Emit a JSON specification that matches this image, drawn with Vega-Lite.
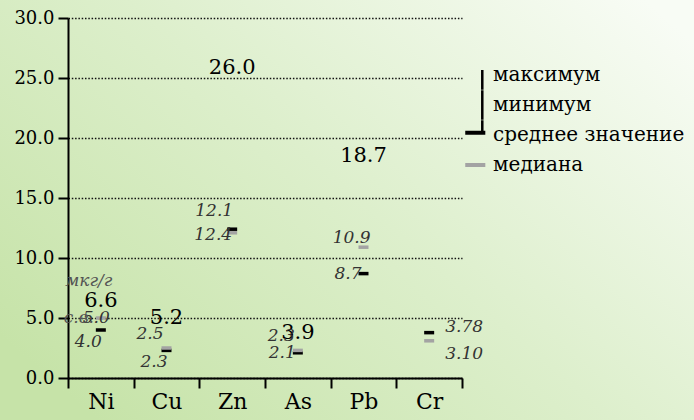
{
  "$schema": "https://vega.github.io/schema/vega-lite/v6.json",
  "width": 694,
  "height": 420,
  "autosize": {"type": "none"},
  "padding": 0,
  "background": "#dcefca",
  "config": {
    "view": {
      "stroke": null,
      "fill": {
        "gradient": "linear",
        "x1": 0, "y1": 0.8, "x2": 1, "y2": 0.1,
        "stops": [
          {"offset": 0, "color": "#c6e3a8"},
          {"offset": 0.5, "color": "#ddefcc"},
          {"offset": 1, "color": "#f8fcf5"}
        ]
      }
    },
    "font": "DejaVu Serif",
    "text": {"font": "DejaVu Serif"}
  },
  "data": {
    "values": [
      {"element": "Ni", "stat": "максимум", "value": 6.6, "label": "6.6"},
      {"element": "Cu", "stat": "максимум", "value": 5.2, "label": "5.2"},
      {"element": "Zn", "stat": "максимум", "value": 26.0, "label": "26.0"},
      {"element": "As", "stat": "максимум", "value": 3.9, "label": "3.9"},
      {"element": "Pb", "stat": "максимум", "value": 18.7, "label": "18.7"},
      {"element": "Ni", "stat": "среднее значение", "value": 4.0, "label": "4.0"},
      {"element": "Cu", "stat": "среднее значение", "value": 2.3, "label": "2.3"},
      {"element": "Zn", "stat": "среднее значение", "value": 12.4, "label": "12.4"},
      {"element": "As", "stat": "среднее значение", "value": 2.1, "label": "2.1"},
      {"element": "Pb", "stat": "среднее значение", "value": 8.7, "label": "8.7"},
      {"element": "Cr", "stat": "среднее значение", "value": 3.78, "label": "3.78"},
      {"element": "Ni", "stat": "медиана", "value": 5.0, "label": "5.0"},
      {"element": "Cu", "stat": "медиана", "value": 2.5, "label": "2.5"},
      {"element": "Zn", "stat": "медиана", "value": 12.1, "label": "12.1"},
      {"element": "As", "stat": "медиана", "value": 2.3, "label": "2.3"},
      {"element": "Pb", "stat": "медиана", "value": 10.9, "label": "10.9"},
      {"element": "Cr", "stat": "медиана", "value": 3.10, "label": "3.10"}
    ]
  },
  "encoding": {
    "x": {
      "field": "element",
      "type": "nominal",
      "sort": ["Ni", "Cu", "Zn", "As", "Pb", "Cr"],
      "scale": {"type": "band", "range": [68, 462], "paddingInner": 0, "paddingOuter": 0},
      "axis": {
        "orient": "bottom",
        "offset": -42,
        "title": null,
        "labelAngle": 0,
        "tickBand": "extent",
        "tickSize": 10,
        "tickWidth": 2,
        "tickColor": "black",
        "domainColor": "black",
        "domainWidth": 2,
        "labelFont": "DejaVu Serif",
        "labelFontSize": 22,
        "labelColor": "black",
        "labelPadding": 3,
        "grid": false
      }
    },
    "y": {
      "field": "value",
      "type": "quantitative",
      "scale": {"domain": [0, 30], "range": [378, 18], "nice": false},
      "axis": {
        "orient": "left",
        "offset": -68,
        "title": null,
        "values": [0, 5, 10, 15, 20, 25, 30],
        "format": ".1f",
        "tickSize": 10,
        "tickWidth": 2,
        "tickColor": "black",
        "domainColor": "black",
        "domainWidth": 2,
        "labelFont": "DejaVu Serif",
        "labelFontSize": 18,
        "labelColor": "black",
        "labelPadding": 4,
        "grid": true,
        "gridColor": "#111111",
        "gridWidth": 1.5,
        "gridDash": [1.5, 1.8]
      }
    }
  },
  "layer": [
    {
      "transform": [{"filter": {"field": "stat", "oneOf": ["среднее значение", "медиана"]}}],
      "mark": {"type": "tick", "thickness": 3.5, "size": 10, "opacity": 1},
      "encoding": {
        "color": {"condition": {"test": "datum.stat === 'медиана'", "value": "#a3a3a3"}, "value": "black"}
      }
    },
    {
      "transform": [{"filter": "false"}],
      "mark": {"type": "point", "filled": true, "strokeWidth": 0, "opacity": 1},
      "encoding": {
        "color": {
          "field": "stat",
          "type": "nominal",
          "scale": {
            "domain": ["максимум", "минимум", "среднее значение", "медиана"],
            "range": ["black", "black", "black", "#a3a3a3"]
          },
          "legend": {
            "orient": "none",
            "legendX": 465,
            "legendY": 60,
            "title": null,
            "padding": 0,
            "labelFont": "DejaVu Serif",
            "labelFontSize": 20,
            "labelColor": "black",
            "labelOffset": -2,
            "labelLimit": 400,
            "symbolSize": 870,
            "symbolStrokeWidth": 0,
            "symbolOpacity": 1,
            "rowPadding": 0
          }
        },
        "shape": {
          "field": "stat",
          "type": "nominal",
          "scale": {
            "domain": ["максимум", "минимум", "среднее значение", "медиана"],
            "range": [
              "M0.15,-1L0.15,-1ZM0.07,-0.34H0.24V1H0.07Z",
              "M0.07,-1H0.24V1H0.07Z",
              "M0.15,1L0.15,1ZM0.07,-1H0.24V-0.1H0.07ZM-1,-0.28H0.36V-0.01H-1Z",
              "M-1,-1L-1,-1ZM-1,1L-1,1ZM-1,-0.13H0.36V0.13H-1Z"
            ]
          },
          "legend": {
            "orient": "none",
            "legendX": 465,
            "legendY": 60,
            "title": null,
            "padding": 0,
            "labelFont": "DejaVu Serif",
            "labelFontSize": 20,
            "labelColor": "black",
            "labelOffset": -2,
            "labelLimit": 400,
            "symbolSize": 870,
            "symbolStrokeWidth": 0,
            "symbolOpacity": 1,
            "rowPadding": 0
          }
        }
      }
    },
    {
      "transform": [{"filter": "datum.stat === 'максимум'"}],
      "mark": {"type": "text", "fontSize": 21, "align": "center", "baseline": "middle", "dy": 2, "color": "black"},
      "encoding": {"text": {"field": "label"}}
    },
    {
      "transform": [{"filter": "datum.stat === 'медиана' && datum.element === 'Zn'"}],
      "mark": {"type": "text", "fontSize": 17, "fontStyle": "italic", "align": "right", "baseline": "middle", "dx": 1, "dy": -22, "color": "#333333"},
      "encoding": {"text": {"field": "label"}}
    },
    {
      "transform": [{"filter": "datum.stat === 'медиана' && datum.element === 'Pb'"}],
      "mark": {"type": "text", "fontSize": 17, "fontStyle": "italic", "align": "right", "baseline": "middle", "dx": 7, "dy": -9, "color": "#333333"},
      "encoding": {"text": {"field": "label"}}
    },
    {
      "transform": [{"filter": "datum.stat === 'медиана' && datum.element === 'Ni'"}],
      "mark": {"type": "text", "fontSize": 17, "fontStyle": "italic", "align": "right", "baseline": "middle", "dx": 9, "dy": 0, "color": "#333333"},
      "encoding": {"text": {"field": "label"}}
    },
    {
      "transform": [{"filter": "datum.stat === 'медиана' && (datum.element === 'Cu' || datum.element === 'As')"}],
      "mark": {"type": "text", "fontSize": 17, "fontStyle": "italic", "align": "right", "baseline": "middle", "dx": -3, "dy": -14, "color": "#333333"},
      "encoding": {"text": {"field": "label"}}
    },
    {
      "transform": [{"filter": "datum.stat === 'среднее значение' && datum.element === 'Zn'"}],
      "mark": {"type": "text", "fontSize": 17, "fontStyle": "italic", "align": "right", "baseline": "middle", "dx": 0, "dy": 6, "color": "#333333"},
      "encoding": {"text": {"field": "label"}}
    },
    {
      "transform": [{"filter": "datum.stat === 'среднее значение' && (datum.element === 'Cu' || datum.element === 'Ni')"}],
      "mark": {"type": "text", "fontSize": 17, "fontStyle": "italic", "align": "right", "baseline": "middle", "dx": 1, "dy": 12, "color": "#333333"},
      "encoding": {"text": {"field": "label"}}
    },
    {
      "transform": [{"filter": "datum.stat === 'среднее значение' && (datum.element === 'As' || datum.element === 'Pb')"}],
      "mark": {"type": "text", "fontSize": 17, "fontStyle": "italic", "align": "right", "baseline": "middle", "dx": -2, "dy": 0, "color": "#333333"},
      "encoding": {"text": {"field": "label"}}
    },
    {
      "transform": [{"filter": "datum.stat === 'среднее значение' && datum.element === 'Cr'"}],
      "mark": {"type": "text", "fontSize": 17, "fontStyle": "italic", "align": "left", "baseline": "middle", "dx": 16, "dy": -6, "color": "#333333"},
      "encoding": {"text": {"field": "label"}}
    },
    {
      "transform": [{"filter": "datum.stat === 'медиана' && datum.element === 'Cr'"}],
      "mark": {"type": "text", "fontSize": 17, "fontStyle": "italic", "align": "left", "baseline": "middle", "dx": 16, "dy": 13, "color": "#333333"},
      "encoding": {"text": {"field": "label"}}
    },
    {
      "transform": [{"filter": "datum.stat === 'максимум' && datum.element === 'Ni'"}],
      "mark": {"type": "text", "fontSize": 17, "fontStyle": "italic", "align": "center", "baseline": "middle", "dx": -12, "dy": -18, "color": "#555555"},
      "encoding": {"text": {"value": "мкг/г"}}
    },
    {
      "transform": [{"filter": "datum.stat === 'медиана' && datum.element === 'Ni'"}],
      "mark": {"type": "text", "fontSize": 17, "fontStyle": "italic", "align": "center", "baseline": "middle", "dx": -22, "dy": 0, "color": "#555555"},
      "encoding": {"text": {"value": "с.в."}}
    }
  ]
}
